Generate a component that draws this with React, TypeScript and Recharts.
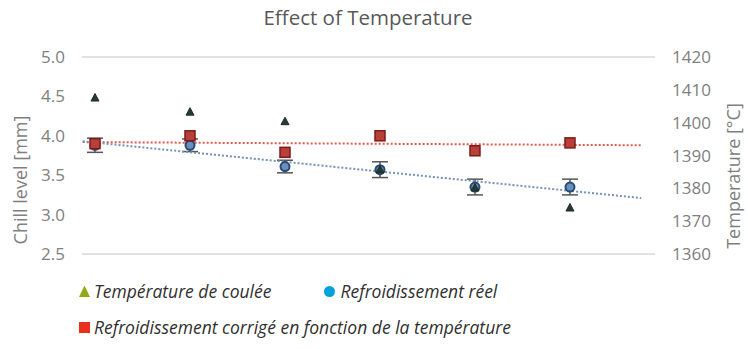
import { ComposedChart, Scatter, XAxis, YAxis, CartesianGrid, ErrorBar } from 'recharts';

// run index (x position of each test)
const runs = [1, 2, 3, 4, 5, 6];
// Température de coulée [°C] (right axis)
const pourTemp = [1407.5, 1403.2, 1400.3, 1385.6, 1380.1, 1374.0];
// Refroidissement réel [mm] (left axis)
const actualChill = [3.88, 3.88, 3.61, 3.57, 3.35, 3.35];
const actualChillErr = [0.09, 0.08, 0.08, 0.1, 0.1, 0.1];
// Refroidissement corrigé [mm] (left axis)
const correctedChill = [3.9, 4.0, 3.79, 4.0, 3.81, 3.91];
// trendline end points
const trendX = [0.87, 6.75];
const actualTrend = [3.93, 3.21];
const correctedTrend = [3.92, 3.88];

const chillTicks = [2.5, 3.0, 3.5, 4.0, 4.5, 5.0];
const tempTicks = [1360, 1370, 1380, 1390, 1400, 1410, 1420];

const tempData = runs.map((x, i) => ({ x, y: pourTemp[i] }));
const actualData = runs.map((x, i) => ({ x, y: actualChill[i], err: actualChillErr[i] }));
const correctedData = runs.map((x, i) => ({ x, y: correctedChill[i] }));
const actualTrendData = trendX.map((x, i) => ({ x, y: actualTrend[i] }));
const correctedTrendData = trendX.map((x, i) => ({ x, y: correctedTrend[i] }));

const FONT = '"Open Sans", sans-serif';
const tickStyle = { fill: '#808080', fontSize: 17, fontFamily: FONT };

const Triangle = (props: any) => {
    const { cx, cy } = props;
    return <polygon points={`${cx},${cy - 4.5} ${cx - 4},${cy + 3} ${cx + 4},${cy + 3}`} fill="#263a30" stroke="#1d2d25" strokeWidth={1} />;
};

const Dot = (props: any) => {
    const { cx, cy } = props;
    return <circle cx={cx} cy={cy} r={4.5} fill="#6b8fba" stroke="#254a77" strokeWidth={2} />;
};

const Square = (props: any) => {
    const { cx, cy } = props;
    return <rect x={cx - 5} y={cy - 5} width={10} height={10} fill="#b8403a" stroke="#7d1a18" strokeWidth={1.5} />;
};

const NoShape = () => <g />;

const legendText = { fontFamily: FONT, fontStyle: 'italic', fontSize: 17.5, color: '#303030' };

export default function App() {
    return (
        <div style={{ position: 'absolute', left: 0, top: 0, width: 748, height: 349, background: '#fff' }}>
            <div style={{ position: 'absolute', left: 0, top: 3, width: 736, textAlign: 'center', fontFamily: FONT, fontSize: 20.5, color: '#595959', lineHeight: '28px' }}>
                Effect of Temperature
            </div>
            <ComposedChart width={748} height={349} margin={{ top: 57, right: 0, bottom: 95, left: 0 }}>
                <CartesianGrid vertical={false} stroke="#d9d9d9" strokeWidth={1.3} />
                <XAxis type="number" dataKey="x" domain={[0.863, 6.895]} hide allowDataOverflow />
                <YAxis
                    yAxisId="left"
                    type="number"
                    dataKey="y"
                    domain={[2.5, 5]}
                    ticks={chillTicks}
                    tickFormatter={(v: number) => v.toFixed(1)}
                    width={82}
                    axisLine={false}
                    tickLine={false}
                    tickSize={0}
                    tickMargin={17}
                    tick={tickStyle}
                    label={{
                        content: () => (
                            <text x={20} y={180} transform="rotate(-90 20 180)" textAnchor="middle" dominantBaseline="central" fill="#808080" fontSize={18} fontFamily={FONT}>
                                Chill level [mm]
                            </text>
                        ),
                    }}
                />
                <YAxis
                    yAxisId="right"
                    orientation="right"
                    type="number"
                    dataKey="y"
                    domain={[1360, 1420]}
                    ticks={tempTicks}
                    width={93}
                    axisLine={false}
                    tickLine={false}
                    tickSize={0}
                    tickMargin={17}
                    tick={tickStyle}
                    label={{
                        content: () => (
                            <text x={733} y={176} transform="rotate(-90 733 176)" textAnchor="middle" dominantBaseline="central" fill="#808080" fontSize={18} fontFamily={FONT}>
                                Temperature [°C]
                            </text>
                        ),
                    }}
                />

                <Scatter yAxisId="left" data={correctedTrendData} line={{ stroke: '#e0584e', strokeWidth: 2, strokeDasharray: '2 2' }} shape={NoShape} isAnimationActive={false} />
                <Scatter yAxisId="left" data={actualTrendData} line={{ stroke: '#7393b8', strokeWidth: 2, strokeDasharray: '2 2' }} shape={NoShape} isAnimationActive={false} />

                <Scatter yAxisId="left" data={actualData} shape={Dot} isAnimationActive={false}>
                    <ErrorBar dataKey="err" direction="y" width={8} stroke="#555555" strokeWidth={1.5} />
                </Scatter>
                <Scatter yAxisId="left" data={correctedData} shape={Square} isAnimationActive={false} />
                <Scatter yAxisId="right" data={tempData} shape={Triangle} isAnimationActive={false} />
            </ComposedChart>

            <div style={{ position: 'absolute', left: 78, top: 279, display: 'flex', alignItems: 'center', ...legendText }}>
                <svg width={13} height={13} style={{ marginRight: 3 }}>
                    <polygon points="6.5,0.5 12,12 1,12" fill="#8fac17" />
                </svg>
                <span>Température de coulée</span>
                <svg width={13} height={13} style={{ marginLeft: 52, marginRight: 4 }}>
                    <circle cx={6.5} cy={6.5} r={5.5} fill="#00a0dd" />
                </svg>
                <span>Refroidissement réel</span>
            </div>
            <div style={{ position: 'absolute', left: 78, top: 315, display: 'flex', alignItems: 'center', ...legendText }}>
                <svg width={13} height={13} style={{ marginRight: 3 }}>
                    <rect x={1} y={1} width={11} height={11} fill="#e8301c" />
                </svg>
                <span>Refroidissement corrigé en fonction de la température</span>
            </div>
        </div>
    );
}
